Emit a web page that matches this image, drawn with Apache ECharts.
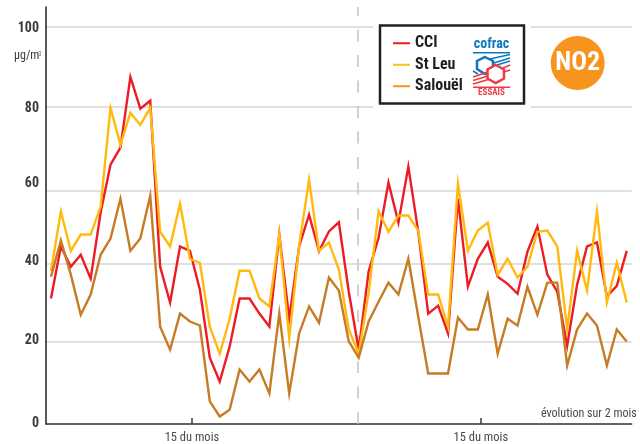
<!DOCTYPE html>
<html>
<head>
<meta charset="utf-8">
<script src="https://cdn.jsdelivr.net/npm/echarts@6/dist/echarts.min.js"></script>
<style>html,body{margin:0;padding:0;background:#fff}#c{width:640px;height:444px}</style>
</head>
<body>
<div id="c"></div>
<script>
const cci = [31.6,44.7,39.6,42.6,36.6,53.2,65.3,69.6,87.4,79.4,81.4,39.6,30.6,44.7,43.6,33.8,16.7,10.7,19.5,31.6,31.6,27.8,24.5,47.7,26.5,44.7,52.7,43.5,48.5,50.8,33.3,18.7,38.4,46.9,60.8,50.7,64.8,48.4,27.8,29.8,22.8,56.7,34.6,41.6,45.7,37.1,35.3,32.8,43.4,49.7,37.6,33.3,19.7,35.1,44.7,45.7,32.1,34.8,43.6];
const stLeu = [38.6,53.5,43.6,47.7,47.7,54.7,79.6,70.3,78.4,75.3,79.6,48.4,44.7,55.5,41.6,40.6,24.5,17.7,26.5,38.6,38.6,31.6,29.6,47.7,21.5,44.9,61.5,43.6,45.7,38.9,23.8,17.7,33.1,53.5,48.4,52.5,52.5,48.7,32.6,32.6,24.5,60.5,43.6,48.7,50.7,37.6,41.6,36.9,39.6,48.4,48.7,44.7,24.0,43.6,33.6,53.5,30.6,40.6,30.6];
const salouel = [37.1,46.2,37.6,27.5,32.6,42.6,46.7,56.7,43.6,46.7,57.5,24.5,18.7,27.8,25.8,24.8,5.7,1.9,3.6,13.7,10.7,13.7,7.7,27.8,7.7,22.8,29.6,25.5,36.9,33.6,20.8,16.7,25.8,30.8,35.6,32.6,41.6,27.0,12.7,12.7,12.7,26.8,23.8,23.8,32.6,17.7,26.5,24.8,34.6,27.5,35.6,35.6,14.7,23.8,27.8,24.8,14.7,23.8,20.8];
const gridAt = [0,20.75,40.4,58.8,79.9,100];
const labelAt = [0.2,21,40.9,60.5,79.4,99.7];
const tickLabels = ['0','20','40','60','80','100'];
const monthTicks = [14.2,43.3];
const monthLabel = '15 du mois';
const midMark = 30.9;

const narrow = '"Roboto Condensed","Open Sans Condensed",sans-serif';
const pts = a => a.map((v,i)=>[i,v]);
const chart = echarts.init(document.getElementById('c'),null,{renderer:'canvas'});
const line = (name,data,color,extra) => Object.assign({
  name,type:'line',data:pts(data),symbol:'none',smooth:false,silent:true,animation:false,
  lineStyle:{color,width:2.4,join:'miter'},itemStyle:{color}
},extra||{});
const blue='#0b78bd', red='#ee3a46';
const stripe=(x1,y1,x2,y2,c)=>({type:'line',z:11,shape:{x1,y1,x2,y2},style:{stroke:c,lineWidth:1.6}});
chart.setOption({
  animation:false,
  backgroundColor:'#fff',
  grid:{left:46,right:8.3,top:7,bottom:19.5},
  xAxis:{type:'value',min:-0.5,max:58.5,
    axisLine:{show:true,onZero:false,lineStyle:{color:'#3a3a3a',width:1.5}},
    axisTick:{show:true,inside:true,length:6,customValues:monthTicks,lineStyle:{color:'#3a3a3a',width:1.5}},
    axisLabel:{show:true,customValues:monthTicks,formatter:()=>monthLabel,color:'#4a4a4a',fontFamily:narrow,fontSize:12.5,margin:7},
    splitLine:{show:false}},
  yAxis:{type:'value',min:0,max:105,
    axisLine:{show:true,onZero:false,lineStyle:{color:'#231f20',width:1.5}},
    axisTick:{show:false,customValues:gridAt},
    axisLabel:{show:true,customValues:labelAt,showMinLabel:true,showMaxLabel:true,
      formatter:v=>tickLabels[labelAt.indexOf(v)],color:'#3a3a3a',fontFamily:narrow,fontWeight:'bold',fontSize:14,margin:7,padding:[4,0,0,0]},
    splitLine:{show:true,lineStyle:{color:'#d6d6d6',width:1.6}}},
  legend:{show:true,orient:'vertical',left:388,top:29,itemWidth:17,itemHeight:2,itemGap:3,icon:'rect',z:20,
    textStyle:{fontFamily:narrow,fontWeight:'bold',fontSize:16,color:'#231f20',lineHeight:18.5,padding:[0,0,0,0]},
    selectedMode:false,
    data:[{name:'CCI',itemStyle:{color:'#ed1c24'}},{name:'St Leu',itemStyle:{color:'#ffc20e'}},{name:'Salouël',itemStyle:{color:'#f7941d'}}]},
  series:[
    line('CCI',cci,'#ed1c24',{z:3,markLine:{silent:true,z:1,symbol:'none',animation:false,label:{show:false},
      lineStyle:{color:'#c4c4c4',width:1.5,type:[12,13.5]},data:[{xAxis:midMark}]}}),
    line('St Leu',stLeu,'#ffb90f',{z:4}),
    line('Salouël',salouel,'#c77b25',{z:5})
  ],
  graphic:[
    {type:'text',z:10,left:14,top:50,style:{text:'µg/m',fill:'#3a3a3a',font:'12px '+narrow}},
    {type:'text',z:10,left:38,top:51,style:{text:'3',fill:'#777',font:'7px '+narrow}},
    {type:'text',z:10,left:541,top:408,style:{text:'évolution sur 2 mois',fill:'#4a4a4a',font:'12px '+narrow}},
    {type:'rect',z:8,shape:{x:373,y:20,width:158,height:90},style:{fill:'#fff'}},
    {type:'rect',z:9,shape:{x:380,y:25.5,width:144,height:78},style:{fill:'#fff',stroke:'#231f20',lineWidth:2.5}},
    {type:'circle',z:10,shape:{cx:577.7,cy:63,r:27},style:{fill:'#f7941d'}},
    {type:'text',z:11,x:577.7,y:63,style:{text:'NO2',fill:'#fff',font:'bold 26px '+narrow,textAlign:'center',textVerticalAlign:'middle'}},
    {type:'text',z:11,x:491.5,y:44.5,style:{text:'cofrac',fill:blue,font:'bold 14px '+narrow,textAlign:'center',textVerticalAlign:'middle'}},
    {type:'rect',z:11,shape:{x:473,y:52,width:37,height:1.5},style:{fill:blue}},
    {type:'polygon',z:11,shape:{points:[[485,57],[493,61],[493,69],[485,74],[477,69],[477,61]]},style:{fill:'none',stroke:blue,lineWidth:2.5}},
    stripe(490,59,510,54.5,blue),stripe(494,63,510,58,blue),stripe(497,65,510,61,blue),stripe(473,71,478,74,blue),
    {type:'polygon',z:12,shape:{points:[[495.7,65],[504,69.5],[504,78.5],[495.7,83],[487.5,78.5],[487.5,69.5]]},style:{fill:'#fff',stroke:red,lineWidth:2.5}},
    stripe(473,77,488,72,red),stripe(473,80.5,488,76,red),stripe(473,84,490,79,red),stripe(503,68,510,65,red),stripe(504,72,510,70,red),
    {type:'rect',z:11,shape:{x:473,y:86.5,width:37,height:1.5},style:{fill:red}},
    {type:'text',z:11,x:491.5,y:93,style:{text:'ESSAIS',fill:red,font:'bold 9px '+narrow,textAlign:'center',textVerticalAlign:'middle'}}
  ]
});
</script>
</body>
</html>
